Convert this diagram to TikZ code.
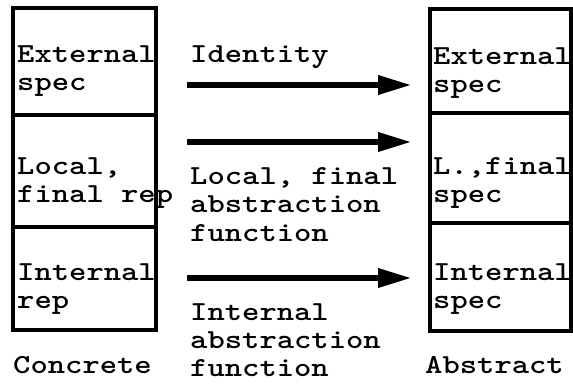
\documentclass[tikz,border=0pt]{standalone}
\usepackage{fontspec}
\usetikzlibrary{arrows.meta}
\newcommand{\wide}[1]{\scalebox{1.2}[1]{#1}}
\begin{document}
\begin{tikzpicture}[x=1pt,y=-1pt,
  box/.style={draw, line width=4pt, inner sep=0pt, outer sep=0pt, anchor=north west},
  lbl/.style={font=\ttfamily\bfseries\fontsize{27.5}{28}\selectfont, inner sep=0pt, anchor=base west},
  arr/.style={line width=6.5pt, -{Triangle[length=34pt,width=18pt]}}]
\useasboundingbox (0,0) rectangle (573,385);
% concrete column
\node[box, minimum width=143.5pt, minimum height=107pt] (c1) at (12.5,8) {};
\node[box, minimum width=143.5pt, minimum height=112pt] (c2) at (12.5,115) {};
\node[box, minimum width=143.5pt, minimum height=103pt] (c3) at (12.5,227) {};
% abstract column
\node[box, minimum width=141pt, minimum height=104pt] (a1) at (430,9) {};
\node[box, minimum width=141pt, minimum height=110pt] (a2) at (430,113) {};
\node[box, minimum width=141pt, minimum height=108pt] (a3) at (430,223) {};
% box texts
\node[lbl] (tc1) at (17,63) {\wide{\vtop{\hbox{External}\hbox{spec}}}};
\node[lbl] (tc2) at (17,175) {\wide{\vtop{\hbox{Local,}\hbox{final rep}}}};
\node[lbl] (tc3) at (17,280) {\wide{\vtop{\hbox{Internal}\hbox{rep}}}};
\node[lbl] (ta1) at (433,65) {\wide{\vtop{\hbox{External}\hbox{spec}}}};
\node[lbl] (ta2) at (433,175) {\wide{\vtop{\hbox{L.,final}\hbox{spec}}}};
\node[lbl] (ta3) at (433,280) {\wide{\vtop{\hbox{Internal}\hbox{spec}}}};
\node[lbl] (conc) at (13,373) {\wide{Concrete}};
\node[lbl] (abst) at (425,373) {\wide{Abstract}};
% arrow labels
\node[lbl] (m1) at (190,63) {\wide{Identity}};
\node[lbl] (m2) at (190,185) {\wide{\vtop{\hbox{Local, final}\hbox{abstraction}\hbox{function}}}};
\node[lbl] (m3) at (190,320) {\wide{\vtop{\hbox{Internal}\hbox{abstraction}\hbox{function}}}};
% arrows
\coordinate (s1) at (187,85);  \coordinate (e1) at (412,85);
\coordinate (s2) at (187,142); \coordinate (e2) at (412,142);
\coordinate (s3) at (187,278); \coordinate (e3) at (412,278);
\draw[arr] (s1) -- (e1);
\draw[arr] (s2) -- (e2);
\draw[arr] (s3) -- (e3);
\end{tikzpicture}
\end{document}
